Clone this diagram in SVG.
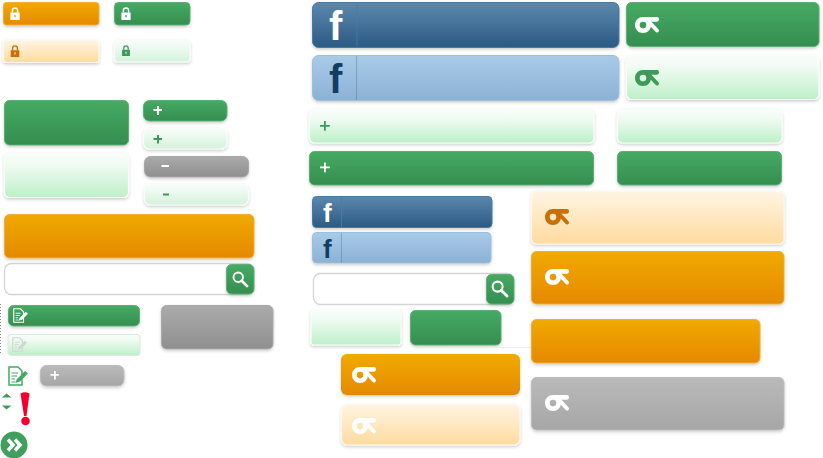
<svg xmlns="http://www.w3.org/2000/svg" width="823" height="458" viewBox="0 0 823 458">
<style>
.b{filter:url(#sh)}
.g{fill:url(#gG);stroke:#5fad77;stroke-width:1}
.lg{fill:url(#gLG);stroke:#f8fdf9;stroke-width:1.2}
.lp{fill:url(#gLP);stroke:#f8fdf9;stroke-width:1.2}
.o{fill:url(#gO);stroke:#f0ae3c;stroke-width:1}
.lo{fill:url(#gLO);stroke:#fff8ec;stroke-width:1.2}
.f{fill:url(#gF);stroke:#4c7a9f;stroke-width:1}
.lf{fill:url(#gLF);stroke:#9dbfdd;stroke-width:1}
.y{fill:url(#gY);stroke:#a8a8a8;stroke-width:1}
.ly{fill:url(#gLY);stroke:#bdbdbd;stroke-width:1}
.s{fill:#fff;stroke:#d4d4d4;stroke-width:1.3}
.fb{font-family:"Liberation Sans",Arial,sans-serif;font-weight:700}
.w{fill:#fff}.dg{fill:#3d9a58}.dn{fill:#123d63}
.pd{stroke:#457fa8;stroke-width:1;opacity:.8}
</style>
<defs>
<linearGradient id="gG" x1="0" y1="0" x2="0" y2="1"><stop offset="0" stop-color="#46aa63"/><stop offset="1" stop-color="#358e4f"/></linearGradient>
<linearGradient id="gLG" x1="0" y1="0" x2="0" y2="1"><stop offset="0" stop-color="#f9fefa"/><stop offset=".25" stop-color="#f1fbf3"/><stop offset="1" stop-color="#bdf0c8"/></linearGradient>
<linearGradient id="gLP" x1="0" y1="0" x2="0" y2="1"><stop offset="0" stop-color="#f9fdfa"/><stop offset="1" stop-color="#d4f2db"/></linearGradient>
<linearGradient id="gO" x1="0" y1="0" x2="0" y2="1"><stop offset="0" stop-color="#f0aa00"/><stop offset="1" stop-color="#e58900"/></linearGradient>
<linearGradient id="gLO" x1="0" y1="0" x2="0" y2="1"><stop offset="0" stop-color="#fff4e2"/><stop offset="1" stop-color="#ffdb9f"/></linearGradient>
<linearGradient id="gF" x1="0" y1="0" x2="0" y2="1"><stop offset="0" stop-color="#5c88ad"/><stop offset="1" stop-color="#2b5a84"/></linearGradient>
<linearGradient id="gLF" x1="0" y1="0" x2="0" y2="1"><stop offset="0" stop-color="#a9cbe9"/><stop offset="1" stop-color="#8cb1d4"/></linearGradient>
<linearGradient id="gY" x1="0" y1="0" x2="0" y2="1"><stop offset="0" stop-color="#ababab"/><stop offset="1" stop-color="#8f8f8f"/></linearGradient>
<linearGradient id="gLY" x1="0" y1="0" x2="0" y2="1"><stop offset="0" stop-color="#bababa"/><stop offset="1" stop-color="#a6a6a6"/></linearGradient>
<filter id="sh" x="-10%" y="-20%" width="120%" height="150%"><feDropShadow dx="0" dy="1.5" stdDeviation="1.6" flood-color="#000" flood-opacity=".2"/></filter>
<symbol id="lock" viewBox="0 0 10 14" overflow="visible"><path d="M2.200 6V3.800a2.800 2.800 0 0 1 5.600 0V6" fill="none" stroke="currentColor" stroke-width="1.600"/><path fill-rule="evenodd" d="M0 6h10v8H0zM4.300 8.500v2.500h1.400V8.500z" fill="currentColor"/></symbol>
<symbol id="key" viewBox="0 0 24 16" overflow="visible"><path fill="currentColor" fill-rule="evenodd" d="M8 0C12.500 0 16 3.500 16 8S12.500 16 8 16 0 12.500 0 8 3.500 0 8 0zM8 4.800A3.300 3.300 0 1 0 8 11.400 3.300 3.300 0 1 0 8 4.800z"/><path fill="currentColor" d="M8 0H22Q24 0 24 2.300T22 4.800H14z"/><path d="M14 5L22 13.500" fill="none" stroke="currentColor" stroke-width="4" stroke-linecap="round"/></symbol>
<symbol id="note" viewBox="0 0 20 20" overflow="visible"><path d="M1 1H10L14 5V19H1Z" fill="none" stroke="currentColor" stroke-width="1.500"/><path d="M3.500 7H10M3.500 10H9M3.500 13H7M3.500 16H7" stroke="currentColor" stroke-width="1.200"/><path d="M7 17L9 13 17 5 20 7.500 12 15.500Z" fill="currentColor"/></symbol>
<symbol id="mag" viewBox="0 0 18 18" overflow="visible"><circle cx="7" cy="7" r="5.300" fill="none" stroke="#fff" stroke-width="2.200"/><path d="M11 11L17 17" stroke="#fff" stroke-width="3" stroke-linecap="round"/></symbol>
</defs>

<g id="connectors"></g>

<g id="lock-orange"><rect class="b o" x="3.500" y="2.500" width="95.500" height="22.500" rx="3"/><use href="#lock" x="10" y="7" width="10" height="13" color="#fff"/></g>
<g id="lock-green"><rect class="b g" x="114.500" y="2.500" width="75.500" height="22.500" rx="4"/><use href="#lock" x="121" y="7" width="10" height="13" color="#fff"/></g>
<g id="lock-light-orange"><rect class="b lo" x="3.500" y="40.500" width="95.500" height="22" rx="3"/><use href="#lock" x="10" y="45" width="10" height="12" color="#c96f08"/></g>
<g id="lock-light-green"><rect class="b lp" x="114.500" y="40.500" width="75.500" height="21.500" rx="3"/><use href="#lock" x="121" y="45" width="10" height="11" color="#3d9a58"/></g>

<g id="green-large"><rect class="b g" x="4.500" y="100.500" width="124" height="44.500" rx="5"/></g>
<g id="light-green-large"><rect class="b lg" x="4.500" y="153.500" width="124" height="44" rx="5"/></g>
<g id="plus-green"><rect class="b g" x="143.500" y="100.500" width="83.500" height="20.500" rx="6"/><path class="w" d="M157 106h2v3h3v2h-3v4h-2v-4h-3.500v-2h3.500z"/></g>
<g id="plus-light-green"><rect class="b lp" x="143.500" y="128.500" width="83.500" height="20.500" rx="6"/><path class="dg" d="M157 135h2v3h3v2h-3v3.500h-2v-3.500h-3.500v-2h3.500z"/></g>
<g id="minus-gray"><rect class="b y" x="144.500" y="156.500" width="104" height="20.500" rx="6"/><rect class="w" x="161.500" y="165" width="7.500" height="2"/></g>
<g id="minus-light-green"><rect class="b lp" x="144.500" y="184.500" width="104" height="20.500" rx="6"/><rect class="dg" x="163" y="193.500" width="6" height="2"/></g>

<g id="orange-wide"><rect class="b o" x="4.500" y="214.500" width="249.500" height="43.500" rx="5"/></g>
<g id="search-left"><rect class="s" x="4.500" y="263.500" width="249" height="31" rx="7"/><rect class="b g" x="226.500" y="264.500" width="27.500" height="29.500" rx="5"/><use href="#mag" x="232" y="271" width="16" height="16"/></g>

<g id="note-green"><rect class="b g" x="8.500" y="305.500" width="131" height="20.500" rx="5"/><use href="#note" x="13" y="308" width="15" height="15" color="#fff"/></g>
<g id="note-light"><rect class="lg" style="stroke:#dcebdf" x="8" y="334.500" width="132" height="21" rx="3"/><use href="#note" x="12" y="337" width="15" height="15" color="#d0d6d0"/></g>
<g id="dotted-rule"><path d="M.5 304V354" stroke="#8a8a8a" stroke-width="1" stroke-dasharray="1 2"/></g>
<g id="gray-block"><rect class="b y" x="161.500" y="305.500" width="111.500" height="43.500" rx="5"/></g>
<g id="note-icon"><use href="#note" x="8" y="366" width="20" height="20" color="#45a862"/></g>
<g id="plus-gray"><rect class="b ly" x="40.500" y="365.500" width="83.500" height="20.500" rx="6"/><path class="w" d="M54 371h1.800v3h3v1.800h-3v3.700H54v-3.700h-3.500V374H54z"/></g>
<g id="sort-arrows"><path class="dg" d="M2 397.500L6.500 393.500 11.500 397.500Z"/><path class="dg" d="M2 405.500L11.500 405.500 6.500 409.500Z"/></g>
<g id="exclamation"><path fill="#f5002d" d="M20.500 393.500Q25 391 29.500 393.500L26.500 416H24Z"/><circle cx="25.500" cy="421" r="4.300" fill="#f5002d"/></g>
<g id="forward-circle"><circle cx="14" cy="445" r="13.500" fill="#3f9f5c"/><path d="M8 439.500L13 445 8 450.500M15 439.500L20 445 15 450.500" fill="none" stroke="#fff" stroke-width="3.500"/></g>

<g id="fb-large"><rect class="b f" x="312.500" y="2.500" width="306.500" height="45" rx="6"/><path class="pd" d="M357 3V47"/><text class="fb w" x="329" y="40" font-size="40">f</text></g>
<g id="fb-large-light"><rect class="b lf" x="312.500" y="55.500" width="306.500" height="45" rx="6"/><path class="pd" style="opacity:.45" d="M356.500 56V100"/><text class="fb dn" x="329" y="93" font-size="40">f</text></g>
<g id="key-green"><rect class="b g" x="626.500" y="2.500" width="192.500" height="44" rx="5"/><use href="#key" x="635" y="17" width="24" height="16" color="#fff"/></g>
<g id="key-light-green"><rect class="b lg" x="626.500" y="55.500" width="192.500" height="44" rx="5"/><use href="#key" x="635" y="70" width="24" height="16" color="#3d9a58"/></g>
<g id="plus-wide-light"><rect class="b lg" x="309.500" y="109.500" width="284.500" height="33.500" rx="5"/><path class="dg" d="M324 121h1.800v4h4v1.700h-4v4H324v-4h-4V125h4z"/></g>
<g id="plain-light"><rect class="b lg" x="617.500" y="109.500" width="164.500" height="33.500" rx="5"/></g>
<g id="plus-wide-green"><rect class="b g" x="309.500" y="151.500" width="284" height="33.500" rx="5"/><path class="w" d="M324 162.500h1.800v4h4v1.700h-4v4H324v-4h-4v-1.700h4z"/></g>
<g id="plain-green"><rect class="b g" x="617.500" y="151.500" width="164" height="33.500" rx="5"/></g>

<g id="fb-small"><rect class="b f" x="312.500" y="196.500" width="179.500" height="31" rx="4"/><path class="pd" d="M341.500 197V227"/><text class="fb w" x="323" y="222" font-size="26">f</text></g>
<g id="fb-small-light"><rect class="b lf" x="312.500" y="232.500" width="178.500" height="30.500" rx="4"/><path class="pd" style="opacity:.45" d="M341.500 233V263"/><text class="fb dn" x="323" y="258" font-size="26">f</text></g>
<g id="search-right"><rect class="s" x="313.500" y="273.500" width="200" height="31" rx="7"/><rect class="b g" x="486.500" y="274.500" width="27.500" height="29.500" rx="5"/><use href="#mag" x="491" y="280" width="17" height="17"/></g>
<g id="light-small"><rect class="b lg" x="311" y="310" width="90" height="35" rx="3"/></g>
<g id="green-small"><rect class="b g" x="410.500" y="310.500" width="90.500" height="34.500" rx="5"/></g>
<g id="faint-rule"><path d="M445 347.500H531" stroke="#ededed" stroke-width="1"/></g>
<g id="key-orange-small"><rect class="b" fill="url(#gO)" x="341" y="354" width="179" height="41" rx="6"/><use href="#key" x="352" y="367" width="24" height="16" color="#fff"/></g>
<g id="key-light-orange-small"><rect class="b lo" x="341.500" y="404.500" width="178.500" height="40.500" rx="6"/><use href="#key" x="352" y="418" width="24" height="16" color="#fff"/></g>
<g id="key-light-orange"><rect class="b lo" x="531.500" y="191.500" width="252.500" height="52.500" rx="5"/><use href="#key" x="545" y="209" width="24" height="16" color="#c96f08"/></g>
<g id="key-orange"><rect class="b o" x="531.500" y="251.500" width="252.500" height="52.500" rx="5"/><use href="#key" x="545" y="269" width="24" height="16" color="#fff"/></g>
<g id="orange-medium"><rect class="b o" x="531.500" y="319.500" width="228.500" height="43.500" rx="5"/></g>
<g id="key-gray"><rect class="b ly" x="531.500" y="377.500" width="252.500" height="52.500" rx="5"/><use href="#key" x="545" y="395" width="24" height="16" color="#fff"/></g>
</svg>
